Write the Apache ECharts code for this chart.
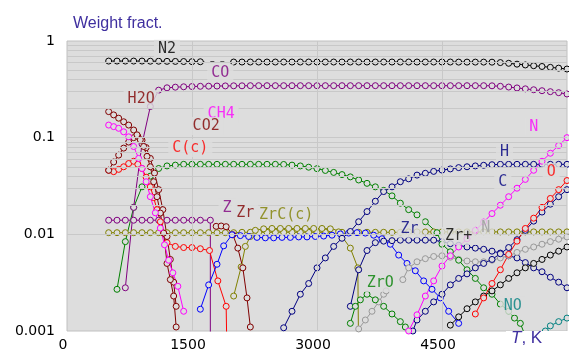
<!DOCTYPE html>
<html><head><meta charset="utf-8">
<script src="https://cdn.jsdelivr.net/npm/echarts@6/dist/echarts.min.js"></script>
<style>html,body{margin:0;padding:0;background:#fff}#c{width:569px;height:351px}</style>
</head><body><div id="c"></div>
<script>
// ---- axis ticks ----
const xTickValues = [0, 1500, 3000, 4500];
const yTickValues = [0.001, 0.01, 0.1, 1];
const hGridValues = [0.002,0.003,0.004,0.005,0.006,0.007,0.008,0.009,0.01,0.02,0.03,0.04,0.05,0.06,0.07,0.08,0.09,0.1,0.2,0.3,0.4,0.5,0.6,0.7,0.8,0.9];
const vGridValues = [1500, 3000, 4500];

// ---- series data: [T (K), weight fraction] ----
const n2Low = [[500,0.62],[600,0.62],[700,0.62],[800,0.62],[900,0.62],[1000,0.618],[1100,0.618],[1200,0.616],[1300,0.615],[1400,0.613],[1500,0.611],[1600,0.61]];
const n2Gap = [[1600,0.61],[2000,0.606]];
const n2High = [[2000,0.606],[2100,0.606],[2200,0.606],[2300,0.606],[2400,0.606],[2500,0.606],[2600,0.606],[2700,0.606],[2800,0.606],[2900,0.606],[3000,0.606],[3100,0.606],[3200,0.606],[3300,0.606],[3400,0.606],[3500,0.606],[3600,0.606],[3700,0.606],[3800,0.606],[3900,0.606],[4000,0.606],[4100,0.606],[4200,0.606],[4300,0.606],[4400,0.606],[4500,0.606],[4600,0.606],[4700,0.605],[4800,0.605],[4900,0.605],[5000,0.605],[5100,0.604],[5200,0.598],[5300,0.588],[5400,0.576],[5500,0.565],[5600,0.555],[5700,0.545],[5800,0.534],[5900,0.524],[6000,0.513]];
const co = [[700,0.0028],[800,0.019],[900,0.086],[1000,0.21],[1100,0.31],[1200,0.328],[1300,0.333],[1400,0.336],[1500,0.338],[1600,0.34],[1700,0.341],[1800,0.342],[1900,0.343],[2000,0.344],[2100,0.344],[2200,0.345],[2300,0.345],[2400,0.345],[2500,0.345],[2600,0.345],[2700,0.345],[2800,0.345],[2900,0.345],[3000,0.345],[3100,0.345],[3200,0.345],[3300,0.345],[3400,0.345],[3500,0.345],[3600,0.345],[3700,0.345],[3800,0.345],[3900,0.345],[4000,0.345],[4100,0.345],[4200,0.345],[4300,0.345],[4400,0.345],[4500,0.345],[4600,0.345],[4700,0.345],[4800,0.345],[4900,0.345],[5000,0.345],[5100,0.344],[5200,0.34],[5300,0.334],[5400,0.327],[5500,0.32],[5600,0.313],[5700,0.306],[5800,0.299],[5900,0.292],[6000,0.283]];
const h2o = [[500,0.186],[560,0.172],[620,0.159],[680,0.146],[740,0.135],[800,0.12],[840,0.107],[880,0.095],[920,0.081],[960,0.064],[1000,0.05],[1040,0.035],[1080,0.0245],[1120,0.0166],[1160,0.0103],[1200,0.005],[1240,0.0034],[1280,0.0023],[1310,0.0011]];
const co2 = [[500,0.046],[560,0.056],[620,0.066],[680,0.078],[740,0.09],[800,0.1],[850,0.103],[900,0.094],[950,0.079],[1000,0.061],[1050,0.043],[1100,0.029],[1150,0.018],[1200,0.0095],[1240,0.0055],[1280,0.0032],[1310,0.0018]];
const ch4 = [[500,0.135],[560,0.13],[620,0.125],[680,0.115],[740,0.102],[800,0.081],[860,0.061],[900,0.048],[950,0.035],[1000,0.0245],[1060,0.0167],[1120,0.0116],[1170,0.0078],[1220,0.0054],[1270,0.004],[1330,0.0029],[1400,0.0016]];
const cCond = [[500,0.046],[560,0.0445],[620,0.047],[680,0.05],[740,0.054],[800,0.057],[850,0.053],[900,0.048],[950,0.039],[1000,0.031],[1040,0.024],[1080,0.018],[1120,0.0135],[1160,0.0103],[1200,0.0082],[1300,0.0075],[1400,0.0073],[1500,0.0073],[1600,0.0071],[1710,0.0068],[1810,0.0033],[1910,0.0018],[1920,0.0005]];
const greenA = [[600,0.0027],[700,0.0084],[800,0.019],[900,0.031],[1000,0.04],[1100,0.048],[1200,0.051],[1300,0.052],[1400,0.053],[1500,0.053],[1600,0.053],[1700,0.053],[1800,0.053],[1900,0.053],[2000,0.053],[2100,0.053],[2200,0.053],[2300,0.053],[2400,0.053],[2500,0.053],[2600,0.0528],[2700,0.052],[2800,0.051],[2900,0.0495],[3000,0.0478],[3100,0.0458],[3200,0.0437],[3300,0.0415],[3400,0.0393],[3500,0.0365],[3600,0.0337],[3700,0.031],[3800,0.0285],[3900,0.025],[4000,0.021],[4100,0.018],[4200,0.0159]];
const zro2c = [[500,0.014],[600,0.014],[700,0.014],[800,0.014],[900,0.014],[1000,0.014],[1100,0.014],[1200,0.014],[1300,0.014],[1400,0.014],[1500,0.014],[1600,0.014],[1720,0.014],[1720,0.0005]];
const oliveA = [[500,0.0104],[600,0.0104],[700,0.0104],[800,0.0104],[900,0.0104],[1000,0.0104],[1100,0.0104],[1200,0.0104],[1300,0.0104],[1400,0.0104],[1500,0.0104],[1600,0.0104],[1700,0.0104],[1800,0.0104],[1900,0.0104],[2000,0.0104],[2100,0.0105],[2200,0.0105],[2300,0.0105],[2400,0.0105],[2500,0.0105],[2600,0.0105],[2700,0.0105],[2800,0.0105],[2900,0.0105],[3000,0.0105],[3100,0.0105],[3200,0.0105],[3300,0.0105],[3400,0.0105],[3500,0.0105],[3600,0.0105],[3700,0.0105],[3800,0.0105],[3900,0.0105],[4000,0.0105],[4100,0.0106],[4200,0.0106],[4300,0.0106],[4400,0.0106],[4500,0.0106],[4600,0.0106],[4700,0.0106],[4800,0.0106],[4900,0.0106],[5000,0.0106],[5100,0.0106],[5200,0.0106],[5300,0.0106],[5400,0.0106],[5500,0.0106],[5600,0.0106],[5700,0.0106],[5800,0.0106],[5900,0.0106],[6000,0.0106]];
const oliveB = [[2000,0.0023],[2090,0.0046],[2140,0.0075],[2200,0.0095],[2260,0.011],[2360,0.0114],[2460,0.0115],[2560,0.0115],[2660,0.0115],[2760,0.0115],[2860,0.0115],[2960,0.0115],[3060,0.0115],[3160,0.0114],[3260,0.0106],[3400,0.0072],[3490,0.0045],[3500,0.0005]];
const zrMaroon = [[1790,0.0121],[1850,0.0122],[1910,0.012],[1990,0.0099],[2050,0.0072],[2110,0.0045],[2160,0.0022],[2200,0.0011]];
const zrBlue = [[1600,0.00168],[1700,0.003],[1800,0.0049],[1880,0.0076],[1980,0.0099],[2080,0.0097],[2180,0.0095],[2280,0.0093],[2380,0.0092],[2480,0.0092],[2580,0.0093],[2680,0.0093],[2780,0.0094],[2880,0.0094],[2980,0.0095],[3080,0.0096],[3180,0.0098],[3280,0.0101],[3380,0.0103],[3480,0.0104],[3580,0.0103],[3680,0.0098],[3780,0.009],[3880,0.0079],[3980,0.0061],[4080,0.005],[4180,0.0042],[4280,0.0033],[4380,0.0027],[4480,0.0022],[4580,0.0016],[4700,0.0012]];
const hNavy = [[2600,0.00108],[2700,0.0016],[2800,0.0024],[2900,0.0031],[3000,0.0045],[3100,0.0057],[3200,0.0075],[3300,0.0091],[3400,0.0107],[3500,0.0135],[3600,0.0172],[3700,0.022],[3800,0.0277],[3900,0.031],[4000,0.035],[4100,0.0375],[4200,0.041],[4300,0.0428],[4400,0.0448],[4500,0.0462],[4600,0.0475],[4700,0.049],[4800,0.05],[4900,0.051],[5000,0.0518],[5100,0.0525],[5200,0.053],[5300,0.053],[5400,0.053],[5500,0.053],[5600,0.053],[5700,0.053],[5800,0.053],[5900,0.053],[6000,0.053]];
const zrNavy = [[3400,0.0018],[3500,0.0043],[3600,0.0068],[3700,0.0082],[3800,0.0085],[3900,0.0086],[4000,0.0087],[4100,0.0087],[4200,0.0087],[4300,0.0087],[4400,0.0087],[4500,0.0084],[4600,0.008],[4700,0.0077],[4800,0.0074],[4900,0.0072],[5000,0.007],[5100,0.0067],[5200,0.0064],[5300,0.006],[5400,0.0057],[5500,0.0051],[5600,0.0045],[5700,0.0041],[5800,0.0036],[5900,0.0032],[6000,0.0028]];
const cNavy = [[4150,0.001],[4200,0.0013],[4300,0.0016],[4400,0.002],[4500,0.0024],[4600,0.003],[4700,0.0035],[4800,0.0039],[4900,0.0045],[5000,0.005],[5100,0.0055],[5200,0.0063],[5300,0.0073],[5400,0.0088],[5500,0.011],[5600,0.0137],[5700,0.017],[5800,0.0205],[5900,0.0245],[6000,0.029]];
const zrPlus = [[4600,0.00115],[4700,0.0014],[4800,0.0017],[4900,0.002],[5000,0.0023],[5100,0.0026],[5200,0.003],[5300,0.0035],[5400,0.004],[5500,0.0045],[5600,0.005],[5700,0.0055],[5800,0.0061],[5900,0.0067],[6000,0.0074]];
const oRed = [[4900,0.0015],[5000,0.0022],[5100,0.0031],[5200,0.0043],[5300,0.0062],[5400,0.0085],[5500,0.0115],[5600,0.0147],[5700,0.019],[5800,0.0235],[5900,0.029],[6000,0.036]];
const nMagenta = [[4100,0.001],[4200,0.00147],[4300,0.0023],[4400,0.0033],[4500,0.0047],[4600,0.006],[4700,0.0074],[4800,0.009],[4900,0.011],[5000,0.0134],[5100,0.0164],[5200,0.02],[5300,0.0245],[5400,0.03],[5500,0.037],[5600,0.046],[5700,0.057],[5800,0.069],[5900,0.083],[6000,0.1]];
const grayN = [[4030,0.0034],[4100,0.0045],[4200,0.0052],[4300,0.0056],[4400,0.0059],[4500,0.006],[4600,0.0058],[4700,0.0055],[4800,0.0053],[4900,0.0052],[5000,0.0052],[5100,0.0054],[5200,0.0057],[5300,0.006],[5400,0.0065],[5500,0.007],[5600,0.0074],[5700,0.0079],[5800,0.0084],[5900,0.0089],[6000,0.0094]];
const grayB = [[3500,0.00105],[3580,0.0013],[3660,0.0016],[3740,0.002],[3800,0.0024],[3830,0.0026]];
const zroGreen = [[3400,0.0012],[3460,0.0018],[3520,0.0021],[3600,0.0024],[3700,0.0021],[3800,0.0018],[3900,0.0015],[4000,0.00125],[4060,0.0011]];
const greenB = [[4300,0.0135],[4440,0.0104],[4500,0.0079],[4600,0.0066],[4700,0.0054],[4800,0.0043],[4900,0.0035],[5000,0.0028],[5100,0.0024],[5200,0.0019],[5300,0.0016],[5370,0.00136],[5440,0.0012],[5520,0.0008]];
const noTeal = [[5740,0.001],[5800,0.00113],[5900,0.00125],[6000,0.00136]];

// ---- curve labels ----
const labelTexts = ['N2','CO','H2O','CH4','CO2','C(c)','Z','Zr','ZrC(c)','Zr','Zr+','N','ZrO','NO','H','C','N','O'];
const labelT = [1200,1840,890,1850,1670,1480,1920,2140,2630,4110,4700,5024,3760,5350,5250,5230,5600,5810];
const labelV = [0.83,0.467,0.251,0.176,0.132,0.078,0.0188,0.0166,0.0159,0.0114,0.0096,0.0116,0.00314,0.00182,0.071,0.0348,0.129,0.0442];
const labelColors = ['#000000','#800080','#800000','#ff00ff','#800000','#ff0000','#800080','#800000','#808000','#000080','#000000','#999999','#008000','#008080','#000080','#000080','#ff00ff','#ff0000'];

const BG = '#dddddd';
const chart = echarts.init(document.getElementById('c'), null, {renderer: 'canvas'});

function curve(name, data, color, extra) {
  return Object.assign({
    type: 'line', name: name,
    data: data.map(p => p[1] < 0.001 ? {value: p, symbol: 'none'} : p),
    symbol: 'circle', symbolSize: 6, showAllSymbol: true,
    itemStyle: {color: BG, borderColor: color, borderWidth: 1},
    lineStyle: {color: color, width: 1},
    clip: true, silent: true, z: 3,
    emphasis: {disabled: true}
  }, extra || {});
}

const series = [
  {
    type: 'line', name: 'grid', data: [], silent: true, z: 1,
    markLine: {
      silent: true, symbol: ['none', 'none'], label: {show: false},
      lineStyle: {color: '#c8c8c8', width: 1, type: 'solid'},
      emphasis: {disabled: true},
      data: hGridValues.map(v => ({yAxis: v})).concat(vGridValues.map(v => ({xAxis: v})))
    }
  },
  curve('oliveA', oliveA, '#808000'),
  curve('ZrO2(c)', zro2c, '#800080'),
  curve('greenA', greenA, '#008000'),
  curve('N2', n2Low, '#000000'),
  {type: 'line', name: 'N2gap', data: n2Gap, symbol: 'none', silent: true, z: 3,
   lineStyle: {color: '#000000', width: 1, type: [4, 6]}},
  curve('N2b', n2High, '#000000'),
  curve('CO', co, '#800080'),
  curve('C(c)', cCond, '#ff0000'),
  curve('CO2', co2, '#800000'),
  curve('H2O', h2o, '#800000'),
  curve('CH4', ch4, '#ff00ff'),
  curve('oliveB', oliveB, '#808000'),
  curve('ZrMaroon', zrMaroon, '#800000'),
  curve('ZrBlue', zrBlue, '#0000ff'),
  curve('H', hNavy, '#000080'),
  curve('ZrNavy', zrNavy, '#000080'),
  curve('grayB', grayB, '#999999'),
  curve('ZrO', zroGreen, '#008000'),
  curve('grayN', grayN, '#999999'),
  curve('greenB', greenB, '#008000'),
  curve('C', cNavy, '#000080'),
  curve('N', nMagenta, '#ff00ff'),
  curve('Zr+', zrPlus, '#000000'),
  curve('O', oRed, '#ff0000'),
  curve('NO', noTeal, '#008080'),
  {
    type: 'scatter', name: 'labels', silent: true, z: 10,
    symbol: 'rect', symbolSize: 1, itemStyle: {color: 'rgba(0,0,0,0)'},
    data: labelTexts.map((t, i) => ({
      value: [labelT[i], labelV[i]],
      label: {show: true, formatter: t, color: labelColors[i]}
    })),
    label: {
      show: true, position: 'inside',
      fontFamily: 'DejaVu Sans Mono', fontSize: 15,
      backgroundColor: BG, padding: [2, 4, 1, 4]
    }
  }
];

chart.setOption({
  animation: false,
  backgroundColor: '#ffffff',
  grid: {left: 67, right: 2, top: 41, bottom: 20, show: true, containLabel: false,
         outerBoundsMode: 'none',
         backgroundColor: BG, borderColor: '#c0c0c0', borderWidth: 1},
  xAxis: {
    type: 'value', min: xTickValues[0], max: 6000, interval: 1500, z: 10,
    axisLine: {show: false}, axisTick: {show: false}, splitLine: {show: false},
    axisLabel: {fontFamily: 'DejaVu Sans', fontSize: 14, color: '#000', margin: 7,
                padding: [0, 8, 0, 0], showMaxLabel: false,
                formatter: v => String(v)},
    name: '{i|T}, K', nameLocation: 'end', nameGap: -61, nameMoveOverlap: false,
    nameTextStyle: {align: 'left', verticalAlign: 'top', fontFamily: 'Liberation Sans',
      fontSize: 17, color: '#3f2f9f', backgroundColor: '#ffffff', padding: [-1, 40, 8, 5],
      rich: {i: {fontStyle: 'italic', fontFamily: 'Liberation Sans', fontSize: 17, color: '#3f2f9f'}}}
  },
  yAxis: {
    type: 'log', logBase: 10, min: yTickValues[0], max: yTickValues[3],
    axisLine: {show: false}, axisTick: {show: false}, splitLine: {show: false},
    axisLabel: {fontFamily: 'DejaVu Sans', fontSize: 14, color: '#000', margin: 12,
                padding: [0, 0, 10, 0]},
    name: 'Weight fract.', nameLocation: 'end', nameGap: 9, nameMoveOverlap: false,
    nameTextStyle: {align: 'left', verticalAlign: 'bottom', fontFamily: 'Liberation Sans',
      fontSize: 16, color: '#3f2f9f', padding: [0, 0, 0, 6]}
  },
  series: series
});
</script>
</body></html>
